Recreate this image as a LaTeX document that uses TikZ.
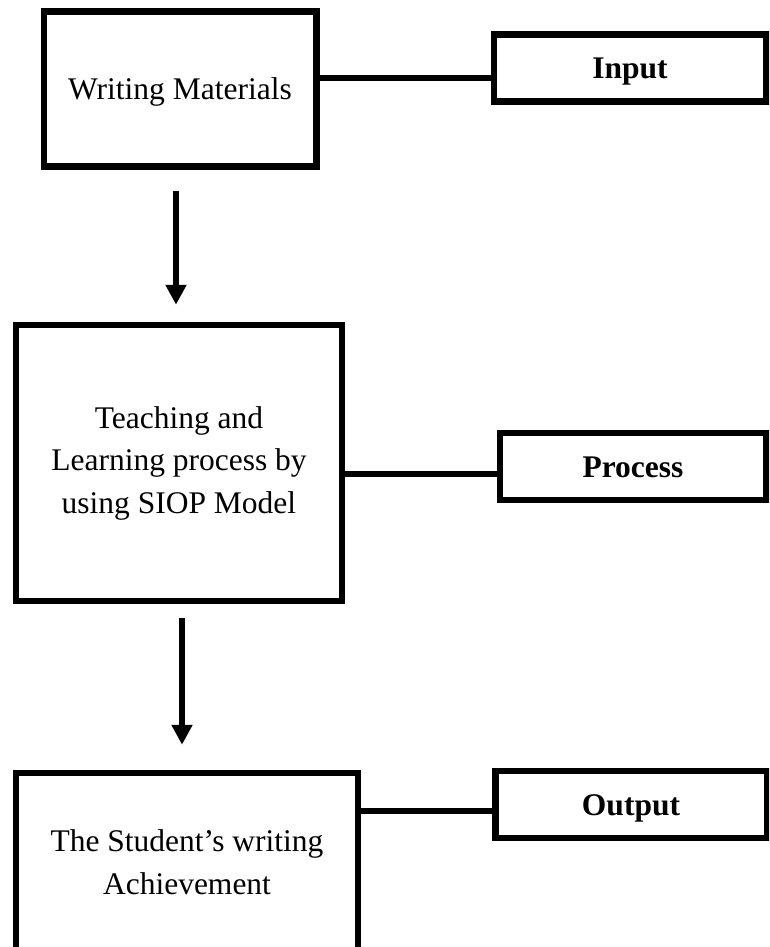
\documentclass[tikz,border=0pt]{standalone}
\usepackage{fontspec}
\setmainfont{Liberation Serif}
\usetikzlibrary{arrows.meta}
\begin{document}
\begin{tikzpicture}[x=1pt,y=-1pt,
    box/.style={draw, line width=6.5pt, inner sep=0pt, align=center,
        font=\fontsize{31.5}{42.5}\selectfont},
    oneline/.style={text height=21pt, text depth=0pt},
    tag/.style={box, oneline, font=\fontsize{31.5}{42.5}\selectfont\bfseries,
        minimum height=67pt},
    link/.style={line width=6pt},
    arr/.style={line width=6.5pt, -{Triangle[width=20pt,length=20pt]}}]
    \useasboundingbox (0,0) rectangle (769,947);
    \clip (0,0) rectangle (769,947);

    % Stages
    \node[box, oneline, minimum width=272.5pt, minimum height=155pt] (wm) at (180,89) {Writing Materials};
    \node[box, minimum width=326pt, minimum height=276pt] (teach) at (179,463)
        {Teaching and\\Learning process by\\using SIOP Model};
    \node[box, minimum width=342pt, minimum height=178pt] (stud) at (187,862)
        {The Student’s writing\\Achievement};

    % Tags
    \node[tag, minimum width=272.5pt] (inp) at (630,68) {Input};
    \node[tag, minimum width=266.5pt] (proc) at (633,466.5) {Process};
    \node[tag, minimum width=271.5pt] (outp) at (631,804.5) {Output};

    % Links
    \draw[link] ([yshift=-10pt]inp.west) -- ([yshift=-10pt]inp.west -| wm.east);
    \draw[link] ([yshift=-7.5pt]proc.west) -- ([yshift=-7.5pt]proc.west -| teach.east);
    \draw[link] ([yshift=-6.5pt]outp.west) -- ([yshift=-6.5pt]outp.west -| stud.east);

    % Flow
    \draw[arr, shorten <=21pt, shorten >=17pt] ([xshift=-4pt]wm.south) -- ([xshift=-4pt]wm.south |- teach.north);
    \draw[arr, shorten <=14pt, shorten >=25pt] ([xshift=3pt]teach.south) -- ([xshift=3pt]teach.south |- stud.north);
\end{tikzpicture}
\end{document}
